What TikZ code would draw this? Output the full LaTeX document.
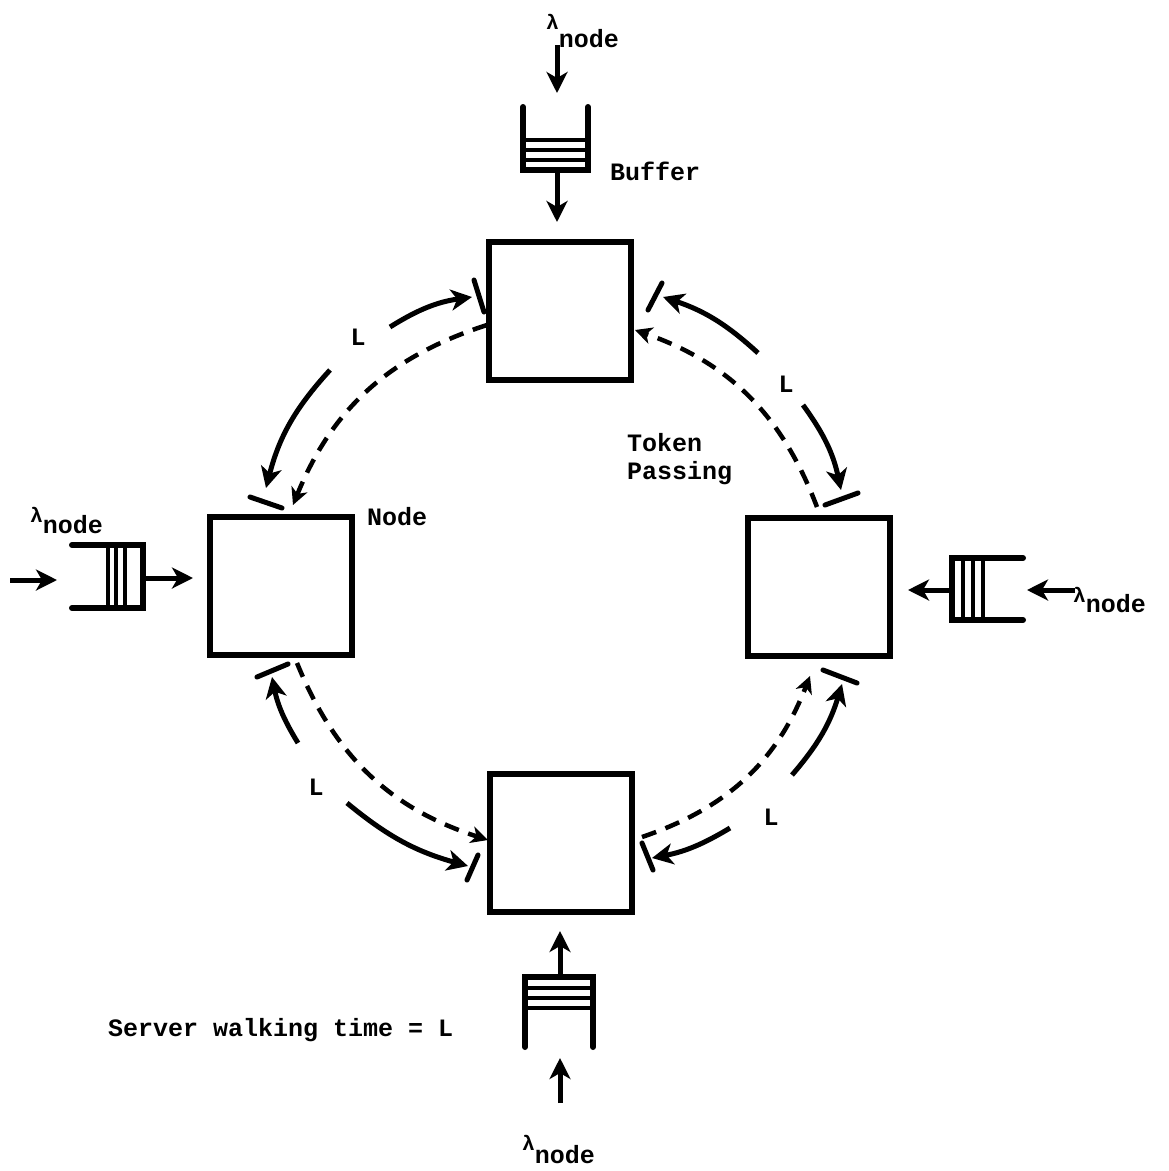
\documentclass[tikz,border=0pt]{standalone}
\usepackage{fontspec}
\setmainfont{Liberation Mono}
\usetikzlibrary{arrows.meta}
\newcommand\lamnode[1]{\raisebox{#1}{\fontsize{21}{21}\selectfont λ}node}
\begin{document}
\begin{tikzpicture}[x=1pt,y=-1pt,
  every node/.style={font=\fontsize{25}{28}\selectfont\bfseries, inner sep=0pt},
  box/.style={draw, line width=6pt, minimum width=142pt, minimum height=138pt},
  arr/.style={line width=5pt, -{Stealth[length=21pt,width=21pt,inset=6pt]}},
  darr/.style={line width=4.5pt, dash pattern=on 15pt off 10pt, -{Stealth[length=17pt,width=17pt,inset=5pt]}},
  tick/.style={line width=5pt, line cap=round},
  wall/.style={line width=6pt, line cap=round},
  bar/.style={line width=3.5pt},
]
\useasboundingbox (0,0) rectangle (1169,1171);
% nodes (boxes)
\node[box] (top) at (560,311) {};
\node[box] (left) at (281,586) {};
\node[box] (right) at (819,587) {};
\node[box] (bot) at (561,843) {};
% labels
\node[anchor=base west] (lamt) at (546,47) {\lamnode{18pt}};
\node[anchor=base west] (laml) at (30,533) {\lamnode{11pt}};
\node[anchor=base west] (lamr) at (1073,612) {\lamnode{10pt}};
\node[anchor=base west] (lamb) at (522,1163) {\lamnode{13pt}};
\node[anchor=base west] (buflab) at (610,180) {Buffer};
\node[anchor=base west] (nodelab) at (367,525) {Node};
\node[anchor=north west, align=left] (token) at (627,433) {Token\\Passing};
\node[anchor=base west] (server) at (108,1036) {Server walking time = L};
\node (L1) at (358,337) {L};
\node (L2) at (786,384) {L};
\node (L3) at (316,787) {L};
\node (L4) at (771,817) {L};
% top buffer
\coordinate (tbi) at (557,45);
\coordinate (tbo) at (557,172);
\draw[wall] (523,107) -- (523,170) -- (588,170) -- (588,107);
\foreach \y in {140,150,160} \draw[bar] (523,\y) -- (588,\y);
\draw[arr] (tbi) -- (557,93);
\draw[arr, shorten >=17pt] (tbo) -- (tbo |- top.north);
% left buffer
\coordinate (lbi) at (10,580);
\coordinate (lbo) at (143,578);
\draw[wall] (72,545) -- (143,545) -- (143,608) -- (72,608);
\foreach \x in {108,116,125} \draw[bar] (\x,545) -- (\x,608);
\draw[arr] (lbi) -- (57,580);
\draw[arr, shorten >=14pt] (lbo) -- (lbo -| left.west);
% right buffer
\coordinate (rbi) at (1075,590);
\coordinate (rbo) at (952,590);
\draw[wall] (1023,558) -- (952,558) -- (952,620) -- (1023,620);
\foreach \x in {963,973,983} \draw[bar] (\x,558) -- (\x,620);
\draw[arr] (rbi) -- (1027,590);
\draw[arr, shorten >=15pt] (rbo) -- (rbo -| right.east);
% bottom buffer
\coordinate (bbi) at (560,1103);
\coordinate (bbo) at (560,975);
\draw[wall] (525,1047) -- (525,977) -- (593,977) -- (593,1047);
\foreach \y in {988,998,1008} \draw[bar] (525,\y) -- (593,\y);
\draw[arr] (bbi) -- (560,1058);
\draw[arr, shorten >=16pt] (bbo) -- (bbo |- bot.south);
% ring: top-left
\coordinate (a1) at (390,327); \coordinate (a2) at (472,297);
\coordinate (a3) at (330,370); \coordinate (a4) at (266,488);
\coordinate (a5) at (487,325); \coordinate (a6) at (293,505);
\draw[arr] (a1) to[bend left=12] (a2);
\draw[arr] (a3) to[bend right=14] (a4);
\draw[darr] (a5) to[bend right=25] (a6);
\draw[tick] (474,280) -- (484,312);
\draw[tick] (250,497) -- (282,508);
% ring: top-right
\coordinate (b1) at (758,353); \coordinate (b2) at (663,297);
\coordinate (b3) at (803,405); \coordinate (b4) at (841,490);
\coordinate (b5) at (817,507); \coordinate (b6) at (635,330);
\draw[arr] (b1) to[bend right=12] (b2);
\draw[arr] (b3) to[bend left=12] (b4);
\draw[darr] (b5) to[bend right=25] (b6);
\draw[tick] (648,310) -- (662,283);
\draw[tick] (825,505) -- (858,493);
% ring: bottom-left
\coordinate (c1) at (298,743); \coordinate (c2) at (272,677);
\coordinate (c3) at (347,803); \coordinate (c4) at (468,866);
\coordinate (c5) at (297,663); \coordinate (c6) at (488,840);
\draw[arr] (c1) to[bend left=10] (c2);
\draw[arr] (c3) to[bend right=12] (c4);
\draw[darr] (c5) to[bend right=25] (c6);
\draw[tick] (257,677) -- (288,664);
\draw[tick] (467,880) -- (478,855);
% ring: bottom-right
\coordinate (d1) at (792,775); \coordinate (d2) at (842,684);
\coordinate (d3) at (730,828); \coordinate (d4) at (652,858);
\coordinate (d5) at (642,837); \coordinate (d6) at (810,676);
\draw[arr] (d1) to[bend right=12] (d2);
\draw[arr] (d3) to[bend left=10] (d4);
\draw[darr] (d5) to[bend right=25] (d6);
\draw[tick] (823,670) -- (857,683);
\draw[tick] (642,843) -- (653,870);
\end{tikzpicture}
\end{document}
